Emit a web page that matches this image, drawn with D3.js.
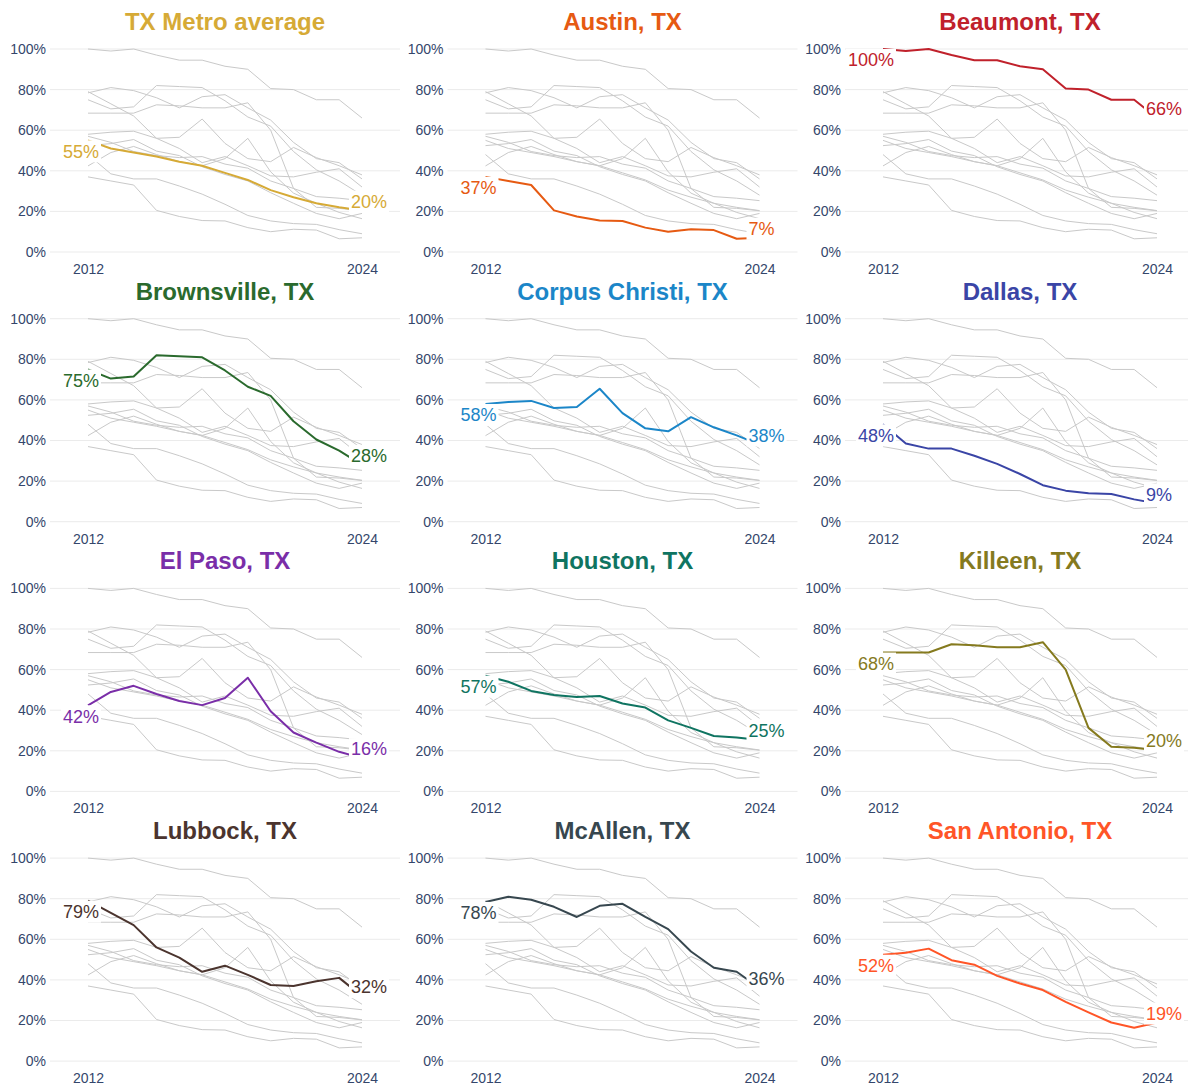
<!DOCTYPE html>
<html>
<head>
<meta charset="utf-8">
<script src="https://cdn.jsdelivr.net/npm/d3@7"></script>
<style>
body{margin:0;background:#fff}
text{font-family:"Liberation Sans",Arial,sans-serif}
</style>
</head>
<body>
<div id="chart"></div>
<script>
var w = 1188
var h = 1088

var years = [2012,2013,2014,2015,2016,2017,2018,2019,2020,2021,2022,2023,2024]
var yTicks = [0,20,40,60,80,100]
var xTicks = [2012,2024]

var cities = ["TX Metro average","Austin, TX","Beaumont, TX","Brownsville, TX","Corpus Christi, TX","Dallas, TX",
              "El Paso, TX","Houston, TX","Killeen, TX","Lubbock, TX","McAllen, TX","San Antonio, TX"]
var colors = ["#d6aa36","#e65a12","#c0212b","#2a6a2d","#1b86c8","#3a45a6",
              "#7a2ea8","#0f7461","#857a1e","#4b342e","#37474f","#ff5527"]

// share of ... per year, %
var txAverage   = [55,51,49,47,44.5,42.5,39,35.5,30.5,27,24,22,20.4]
var austin      = [37,35,33,20.5,17.5,15.5,15.3,12,10,11.2,10.8,6.5,7]
var beaumont    = [100,99,100,97,94.5,94.5,91.5,90,80.5,80,75,75,66]
var brownsville = [75,70.5,71.5,82,81.5,81,74.5,66.5,62,49.5,40.5,35,28]
var corpus      = [58,59,59.5,56,56.5,65.5,53.5,46,44.5,51.5,46.5,42.5,38]
var dallas      = [48,38.5,36,36,32.5,28.5,23.5,18,15.3,14,13.6,11,9]
var elPaso      = [42.4,49,52,48,44.5,42.5,46,56,39.5,29,24,19.5,16.4]
var houston     = [57,54,49.5,47.5,46.5,47,43.3,41.3,35,31.3,27.3,26.5,25.3]
var killeen     = [68.4,68.4,68.4,72.5,72,71,71,73.5,60,31.3,22,21.5,20.3]
var lubbock     = [79,73,67,56,51,44,47,42.5,37.5,37,39.3,41,32]
var mcallen     = [78.4,81,79.5,76,71,76.5,77.5,71,65,54,46,44,36]
var sanAntonio  = [52.4,53.4,55.4,49.7,47.5,42,38.2,35,29.2,24,19,16.4,19]

var allValues = [txAverage,austin,beaumont,brownsville,corpus,dallas,elPaso,houston,killeen,lubbock,mcallen,sanAntonio]

var colW = 397.5
var rowH = 269.7
var tickColor = "#34466b"

var x = d3.scaleLinear().domain([2012,2024]).range([88,362])
var y = d3.scaleLinear().domain([0,100]).range([252,49])
var line = d3.line()
    .x(function(d,i){return x(years[i])})
    .y(function(d){return y(d)})
var pct = function(d){return Math.round(d)+"%"}

var svg = d3.select("#chart").append("svg").attr("width",w).attr("height",h)

cities.forEach(function(city,k){
    var col = k%3
    var row = Math.floor(k/3)
    var g = svg.append("g").attr("transform","translate("+col*colW+","+row*rowH+")")

    // grid
    g.selectAll(".grid").data(yTicks).enter().append("line")
        .attr("x1",50).attr("x2",400)
        .attr("y1",function(d){return y(d)}).attr("y2",function(d){return y(d)})
        .attr("stroke","#ebebeb").attr("stroke-width",1)

    // axes
    var ya = g.append("g").attr("transform","translate(46,0)")
        .call(d3.axisLeft(y).tickValues(yTicks).tickSize(0).tickPadding(0).tickFormat(function(d){return d+"%"}))
    var xa = g.append("g").attr("transform","translate(0,261)")
        .call(d3.axisBottom(x).tickValues(xTicks).tickSize(0).tickPadding(3).tickFormat(d3.format("d")))
    ;[ya,xa].forEach(function(a){
        a.select(".domain").remove()
        a.selectAll("text").attr("fill",tickColor).style("font-size","14px")
            .style("font-family","'Liberation Sans',Arial,sans-serif")
    })

    // others in gray
    allValues.forEach(function(vals,j){
        if(j==k) return
        g.append("path").attr("d",line(vals))
            .attr("fill","none").attr("stroke","#c9c9c9").attr("stroke-width",1)
    })

    // highlighted series
    var vals = allValues[k]
    g.append("path").attr("d",line(vals))
        .attr("fill","none").attr("stroke",colors[k]).attr("stroke-width",2)
        .attr("stroke-linejoin","round")

    // start / end labels with white box
    var labels = [
        {v:vals[0], x:x(years[0])+11, dy:11, anchor:"end"},
        {v:vals[vals.length-1], x:x(years[years.length-1])-11, dy:-9, anchor:"start"}
    ]
    labels.forEach(function(l){
        var lg = g.append("g")
        var t = lg.append("text")
            .attr("x",l.x).attr("y",y(l.v)+l.dy)
            .attr("dy","0.35em")
            .attr("text-anchor",l.anchor)
            .attr("fill",colors[k])
            .style("font-size","18px")
            .text(pct(l.v))
        var b = t.node().getBBox()
        lg.insert("rect","text")
            .attr("x",b.x-2).attr("y",y(l.v)+l.dy-11)
            .attr("width",b.width+4).attr("height",22)
            .attr("fill","#fff")
    })

    // title
    g.append("text")
        .attr("x",225).attr("y",30)
        .attr("text-anchor","middle")
        .attr("fill",colors[k])
        .style("font-size","24px").style("font-weight","bold")
        .text(city)
})
</script>
</body>
</html>
